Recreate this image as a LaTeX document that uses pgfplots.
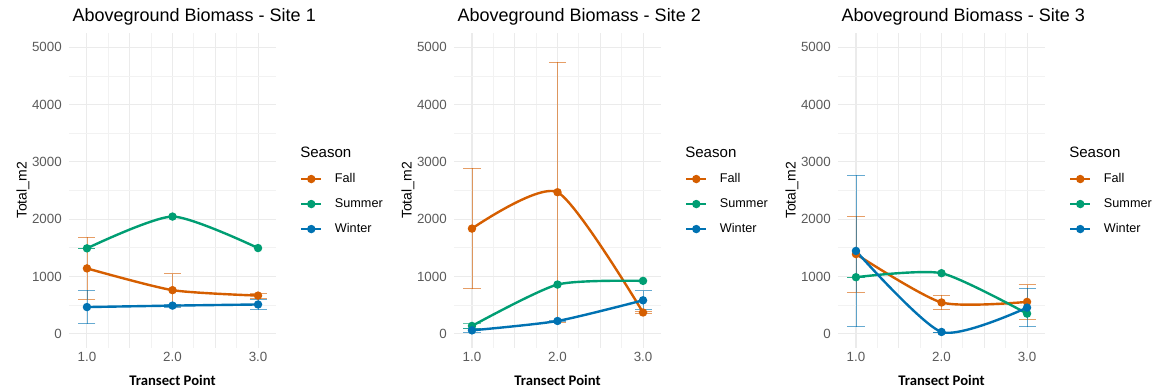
\documentclass[border=0pt]{standalone}
\usepackage{pgfplots}
\usepackage{pgfplotstable}
\pgfplotsset{compat=1.18}
\usepackage{fontspec}
\setmainfont{Liberation Sans}
\newfontfamily\labelfont{Carlito}

\definecolor{fallc}{HTML}{D55E00}
\definecolor{sumc}{HTML}{009E73}
\definecolor{winc}{HTML}{0072B2}
\definecolor{gridmaj}{HTML}{EBEBEB}
\definecolor{gridmin}{HTML}{F2F2F2}
\definecolor{tickc}{HTML}{5A5A5A}

% mean biomass per transect point and its error (+/-)
\pgfplotstableread{
x fall fe   sum  win  we
1 1140 540  1490 465  290
2 760  290  2045 490  30
3 665  45   1495 510  90
}\siteA
\pgfplotstableread{
x fall fe   sum  win  we
1 1835 1050 135  58   30
2 2470 2265 858  222  10
3 370  20   922  583  165
}\siteB
\pgfplotstableread{
x fall fe   sum  win  we
1 1390 665  986  1445 1325
2 545  125  1056 30   0
3 555  300  350  455  335
}\siteC

\pgfplotsset{
  curve/.style={smooth, tension=0.4, line width=1.8pt, mark=*, mark size=2.2pt},
  ebar/.style={only marks, mark=none, forget plot,
    error bars/.cd, y dir=both, y explicit, error mark=|,
    error bar style={#1, opacity=0.6, line width=0.6pt},
    error mark options={#1, opacity=0.6, line width=0.6pt, mark size=6.4pt}},
  biomass/.style={
    scale only axis, width=155.25pt, height=236.25pt,
    xmin=0.79, xmax=3.21, ymin=-250, ymax=5250,
    clip=false,
    axis line style={draw=none}, major tick length=0pt, minor tick length=0pt,
    xtick={1,1.5,2,2.5,3}, xticklabels={1.0,,2.0,,3.0},
    minor xtick={1.25,1.75,2.25,2.75},
    ytick={0,1000,2000,3000,4000,5000}, minor ytick={500,1500,2500,3500,4500},
    grid=both,
    major grid style={gridmaj, line width=0.8pt},
    minor grid style={gridmin, line width=0.6pt},
    /pgf/number format/assume math mode=true,
    /pgf/number format/1000 sep={},
    scaled y ticks=false,
    ticklabel style={font=\fontsize{10}{12}\selectfont, text=tickc},
    yticklabel style={inner sep=0pt, anchor=east, xshift=-5.25pt},
    xticklabel style={inner sep=0pt, anchor=north, yshift=-3pt},
    xlabel={Transect Point},
    xlabel style={at={(axis description cs:0.5,-0.1197)}, anchor=base,
      font=\labelfont\bfseries\fontsize{11}{13}\selectfont},
    ylabel={Total\_m2},
    ylabel style={at={(axis description cs:-0.2043,0.5)}, anchor=base, rotate=0,
      font=\fontsize{10.5}{12}\selectfont},
    title style={at={(axis description cs:-0.005,1.0127)}, anchor=base west,
      font=\fontsize{13.5}{16}\selectfont},
    legend style={at={(axis description cs:1.116,0.457)}, anchor=west,
      draw=none, fill=none, inner sep=0pt,
      font=\fontsize{9.5}{11}\selectfont,
      row sep=10.5pt, column sep=9.5pt,
      nodes={inner sep=0pt}},
    legend cell align=left,
    legend image code/.code={
      \draw[line width=1.5pt] (0pt,0pt) -- (15pt,0pt);
      \fill (7.5pt,0pt) circle (2.2pt);},
  }
}

% one panel: position of the plot area, title, table, extra summer error bars
\newcommand{\sitepanel}[4]{%
\begin{axis}[biomass, at={(#1,30.75pt)}, anchor=south west, title={#2}]
  \addplot[ebar=fallc] table[x=x, y=fall, y error=fe] {#3};
  \addplot[ebar=winc] table[x=x, y=win, y error=we] {#3};
  \addplot[ebar=sumc] coordinates {#4};
  \addplot[curve, fallc] table[x=x, y=fall] {#3};
  \addlegendentry{Fall}
  \addplot[curve, sumc] table[x=x, y=sum] {#3};
  \addlegendentry{Summer}
  \addplot[curve, winc] table[x=x, y=win] {#3};
  \addlegendentry{Winter}
  \node[anchor=west, inner sep=0pt, font=\fontsize{11.3}{13}\selectfont]
    at (axis description cs:1.116,0.6222) {Season};
\end{axis}}

\begin{document}
\begin{tikzpicture}
\useasboundingbox (0,0) rectangle (866.25pt,291.75pt);
\sitepanel{51.75pt}{Aboveground Biomass - Site 1}{\siteA}{(1,1490) +- (0,0)}
\sitepanel{340.5pt}{Aboveground Biomass - Site 2}{\siteB}{(1,135) +- (0,50)}
\sitepanel{628.5pt}{Aboveground Biomass - Site 3}{\siteC}{(1,986) +- (0,0)}
\end{tikzpicture}
\end{document}
